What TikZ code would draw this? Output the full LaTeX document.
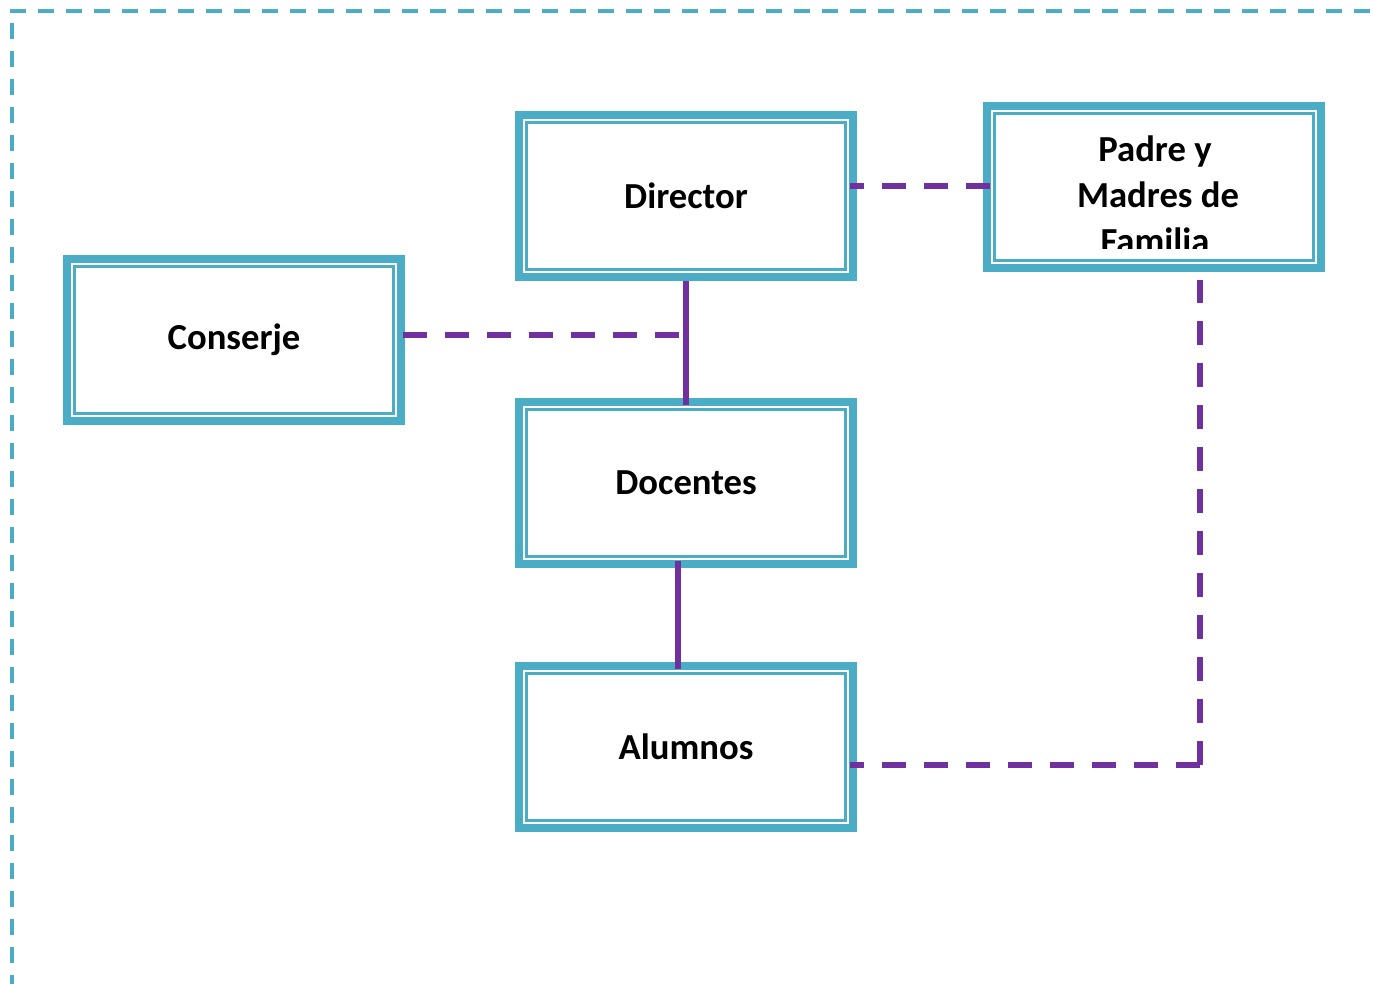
\documentclass[tikz,border=0pt]{standalone}
\usepackage{fontspec}
\setmainfont{Carlito}
\usetikzlibrary{calc}
\definecolor{tealc}{HTML}{4BACC6}
\definecolor{purp}{HTML}{7030A0}
\tikzset{
  orgbox/.style={draw=tealc, line width=6pt, fill=white,
    minimum width=250.5pt, minimum height=121.5pt, inner sep=0pt,
    font=\bfseries\fontsize{27.5}{33}\selectfont,
    path picture={\draw[tealc, line width=1.6pt]
      ([shift={(5.6pt,5.6pt)}]path picture bounding box.south west) rectangle
      ([shift={(-5.6pt,-5.6pt)}]path picture bounding box.north east);}},
  txt/.style={font=\bfseries\fontsize{27.5}{33}\selectfont, inner sep=0pt, anchor=base},
  dashline/.style={draw=purp, line width=3.9pt, dash pattern=on 18pt off 13.5pt},
  solidline/.style={draw=purp, line width=4.2pt},
  pageborder/.style={draw=tealc, line width=2.7pt, dash pattern=on 12pt off 9pt}
}
\begin{document}
\begin{tikzpicture}[x=0.75pt,y=-0.75pt]
\useasboundingbox (0,0) rectangle (1373,983);
\begin{scope}
  \clip (0,0) rectangle (1373,983);
  \draw[pageborder] (10,11) -- (1390,11);
  \draw[pageborder] (12,23) -- (12,1000);
\end{scope}

\node[orgbox] (dir) at (686,196) {Director};
\node[orgbox] (pad) at (1154,187) {};
\node[orgbox] (con) at (234,340) {Conserje};
\node[orgbox] (doc) at (686,483) {Docentes};
\node[orgbox] (alu) at (686,747) {Alumnos};

\begin{scope}
  \clip (990,110) rectangle (1318,248);
  \node[txt] (pad1) at (1155,161) {Padre y};
  \node[txt] (pad2) at (1158,207) {Madres de};
  \node[txt] (pad3) at (1155,253) {Familia};
\end{scope}

% Director -- Padre (drawn from the Padre side)
\coordinate (pw) at ($(pad.west)+(7,-1)$);
\draw[dashline] (pw) -- ($(pw -| dir.east)+(-7,0)$);
% Conserje -- Director/Docentes line
\coordinate (cj) at ($(con.east)+(-2,-5)$);
\draw[dashline] (cj) -- (cj -| dir.south);
\draw[solidline] (dir.south) -- ([yshift=-5pt]doc.north);
\draw[solidline] ([xshift=-6pt,yshift=5pt]doc.south) -- ([xshift=-6pt,yshift=-5pt]alu.north);
% Padre -- Alumnos elbow
\coordinate (pc) at ($(pad.south)+(46,8)$);
\coordinate (ac) at ($(alu.east)+(-7,18)$);
\coordinate (corner) at (pc |- ac);
\draw[dashline] (corner) -- (pc);
\draw[dashline] (corner) -- (ac);
\end{tikzpicture}
\end{document}
